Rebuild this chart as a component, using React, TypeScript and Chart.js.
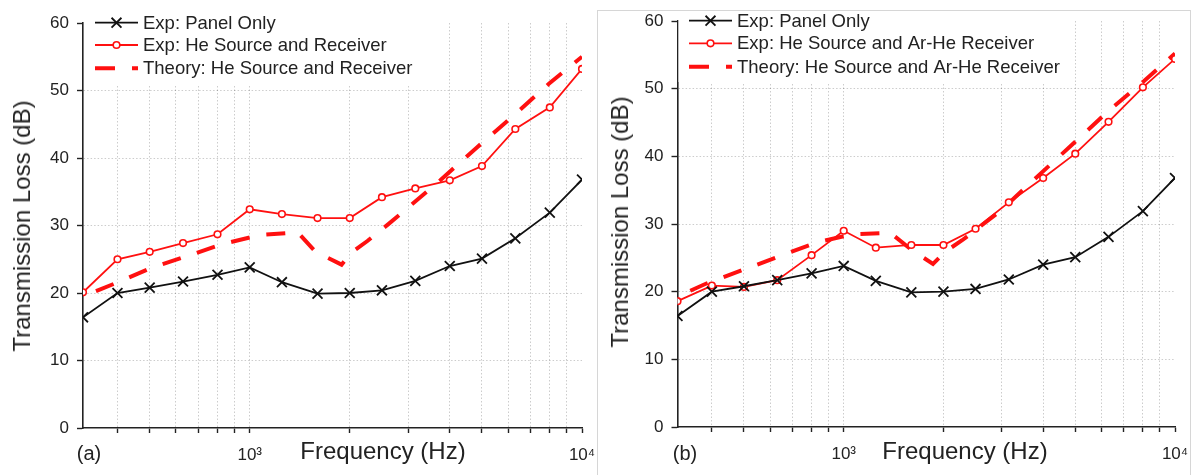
import React, { useEffect, useRef } from 'react';
import { Chart, registerables } from 'chart.js';

Chart.register(...registerables);

// ---------- data ----------
const FREQS = [315, 400, 500, 630, 800, 1000, 1250, 1600, 2000, 2500, 3150, 4000, 5000, 6300, 8000, 10000];
const PANEL_ONLY = [16.4, 20.0, 20.8, 21.7, 22.7, 23.8, 21.6, 19.9, 20.0, 20.4, 21.8, 24.0, 25.1, 28.1, 31.9, 36.8];
const HE_EXP_A = [20.1, 25.0, 26.1, 27.4, 28.7, 32.4, 31.7, 31.1, 31.1, 34.2, 35.5, 36.7, 38.8, 44.3, 47.5, 53.2];
const THEORY_A_FREQS = [315, 397, 504, 651, 835, 1079, 1394, 1578, 1890, 2024, 2260, 2614, 2923, 3746, 4837, 6200, 7950, 10000];
const THEORY_A = [19.5, 21.5, 23.7, 25.5, 27.3, 28.6, 29.0, 26.1, 24.2, 26.0, 27.7, 30.2, 32.2, 36.7, 41.6, 46.2, 51.0, 55.0];
const ARHE_EXP_B = [18.6, 20.9, 20.7, 21.7, 25.4, 29.0, 26.5, 26.9, 26.9, 29.3, 33.2, 36.8, 40.4, 45.1, 50.2, 54.4];
const THEORY_B_FREQS = [315, 385, 508, 654, 832, 1069, 1382, 1610, 1860, 2024, 2278, 2968, 3780, 4860, 6230, 8050, 10000];
const THEORY_B = [19.3, 21.2, 23.4, 25.4, 27.3, 28.5, 28.7, 26.1, 24.1, 25.9, 27.6, 31.9, 36.7, 41.6, 46.5, 51.1, 55.2];

const X_TICKS = [400, 500, 600, 700, 800, 900, 1000, 2000, 3000, 4000, 5000, 6000, 7000, 8000, 9000, 10000];
const X_TICK_LABELS: Record<number, string> = { 1000: '10³', 10000: '10⁴' };
const Y_MIN = 0;
const Y_MAX = 60;
const Y_STEP = 10;

const LEGEND_A = ['Exp: Panel Only', 'Exp: He Source and Receiver', 'Theory: He Source and Receiver'];
const LEGEND_B = ['Exp: Panel Only', 'Exp: He Source and Ar-He Receiver', 'Theory: He Source and Ar-He Receiver'];

const X_TITLE = 'Frequency (Hz)';
const Y_TITLE = 'Transmission Loss (dB)';

// ---------- styling ----------
const FONT = '"Liberation Sans", Arial, Helvetica, sans-serif';
const RED = '#ff1010';
const BLACK = '#111111';
const TEXT = '#222222';
const GRID = 'rgba(0,0,0,0.2)';

function pts(xs: number[], ys: number[]) {
  return xs.map((x, i) => ({ x, y: ys[i] }));
}

const legendPlugin = {
  id: 'customLegend',
  beforeDatasetsDraw(chart: any, _args: any, opts: any) {
    const { ctx, chartArea } = chart;
    ctx.save();
    ctx.fillStyle = '#ffffff';
    ctx.fillRect(chartArea.left + 1, chartArea.top - 1, opts.boxRight - chartArea.left - 1, opts.boxBottom - chartArea.top + 1);
    ctx.restore();
  },
  afterDatasetsDraw(chart: any, _args: any, opts: any) {
    const { ctx } = chart;
    const { x0, x1, textX, rows, labels } = opts;
    const mid = (x0 + x1) / 2;
    ctx.save();
    let y = rows[0];
    ctx.strokeStyle = BLACK;
    ctx.lineWidth = 1.8;
    ctx.beginPath();
    ctx.moveTo(x0, y);
    ctx.lineTo(x1, y);
    ctx.stroke();
    const d = 7 * Math.SQRT1_2;
    ctx.beginPath();
    ctx.moveTo(mid - d, y - d);
    ctx.lineTo(mid + d, y + d);
    ctx.moveTo(mid - d, y + d);
    ctx.lineTo(mid + d, y - d);
    ctx.stroke();
    y = rows[1];
    ctx.strokeStyle = RED;
    ctx.beginPath();
    ctx.moveTo(x0, y);
    ctx.lineTo(x1, y);
    ctx.stroke();
    ctx.fillStyle = '#fff';
    ctx.lineWidth = 1.6;
    ctx.beginPath();
    ctx.arc(mid, y, 3.3, 0, Math.PI * 2);
    ctx.fill();
    ctx.stroke();
    y = rows[2];
    ctx.lineWidth = 4;
    ctx.beginPath();
    ctx.moveTo(x0, y);
    ctx.lineTo(x0 + 20, y);
    ctx.moveTo(x1 - 6, y);
    ctx.lineTo(x1, y);
    ctx.stroke();
    ctx.fillStyle = TEXT;
    ctx.font = `18.5px ${FONT}`;
    ctx.textBaseline = 'middle';
    ctx.textAlign = 'left';
    labels.forEach((t: string, i: number) => ctx.fillText(t, textX, rows[i] + 1));
    ctx.restore();
  },
};

type PanelSpec = {
  left: number;
  width: number;
  height: number;
  area: { left: number; top: number; right: number; bottom: number };
  exp: number[];
  theoryX: number[];
  theory: number[];
  legend: { x0: number; x1: number; textX: number; rows: number[]; labels: string[]; boxRight: number; boxBottom: number };
};

function Panel({ spec }: { spec: PanelSpec }) {
  const ref = useRef<HTMLCanvasElement | null>(null);
  useEffect(() => {
    if (!ref.current) return;
    const { area, width, height } = spec;
    const chart = new Chart(ref.current, {
      type: 'line',
      data: {
        datasets: [
          {
            label: spec.legend.labels[0],
            data: pts(FREQS, PANEL_ONLY),
            borderColor: BLACK,
            borderWidth: 1.8,
            pointStyle: 'crossRot',
            pointRadius: 7,
            pointBorderWidth: 1.8,
            pointBorderColor: BLACK,
            pointBackgroundColor: BLACK,
            tension: 0,
            clip: 0,
          },
          {
            label: spec.legend.labels[1],
            data: pts(FREQS, spec.exp),
            borderColor: RED,
            borderWidth: 1.8,
            pointStyle: 'circle',
            pointRadius: 3.3,
            pointBorderWidth: 1.6,
            pointBorderColor: RED,
            pointBackgroundColor: '#ffffff',
            tension: 0,
            clip: 0,
          },
          {
            label: spec.legend.labels[2],
            data: pts(spec.theoryX, spec.theory),
            borderColor: RED,
            borderWidth: 4,
            borderDash: [19, 17],
            borderDashOffset: 22,
            borderCapStyle: 'butt',
            pointRadius: 0,
            tension: 0,
            clip: 0,
          },
        ] as any,
      },
      options: {
        animation: false,
        responsive: false,
        events: [],
        layout: { padding: { left: 0, top: area.top, right: width - area.right, bottom: 0 } },
        plugins: {
          legend: { display: false },
          tooltip: { enabled: false },
          customLegend: spec.legend,
        } as any,
        scales: {
          x: {
            type: 'logarithmic',
            position: 'bottom',
            min: 315,
            max: 10000,
            afterBuildTicks: (s: any) => {
              s.ticks = X_TICKS.map((v) => ({ value: v }));
            },
            afterFit: (s: any) => {
              s.height = height - area.bottom;
              s.paddingLeft = 0;
              s.paddingRight = 0;
            },
            ticks: {
              autoSkip: false,
              maxRotation: 0,
              minRotation: 0,
              padding: 12,
              color: TEXT,
              font: { family: FONT, size: 17 },
              callback: (v: any) => X_TICK_LABELS[Number(v)] ?? '',
            },
            grid: {
              color: (c: any) => (c.tick && c.tick.value === 10000 ? 'rgba(0,0,0,0)' : GRID),
              lineWidth: 1,
              tickLength: 5,
              tickColor: '#222',
              tickWidth: 1.4,
              tickBorderDash: [],
            },
            border: { display: true, color: '#222', width: 1.6, dash: [1.5, 2] },
          },
          y: {
            type: 'linear',
            min: Y_MIN,
            max: Y_MAX,
            afterFit: (s: any) => {
              s.width = area.left;
              s.paddingTop = 0;
              s.paddingBottom = 0;
            },
            ticks: {
              stepSize: Y_STEP,
              padding: 8,
              color: TEXT,
              font: { family: FONT, size: 17 },
            },
            grid: {
              color: (c: any) => (c.tick && (c.tick.value === Y_MAX || c.tick.value === Y_MIN) ? 'rgba(0,0,0,0)' : GRID),
              lineWidth: 1,
              tickLength: 6,
              tickColor: '#222',
              tickWidth: 1.4,
              tickBorderDash: [],
            },
            border: { display: true, color: '#222', width: 1.6, dash: [1.5, 2] },
          },
        } as any,
      },
      plugins: [legendPlugin as any],
    });
    return () => chart.destroy();
  }, [spec]);
  return (
    <canvas
      ref={ref}
      width={spec.width}
      height={spec.height}
      style={{ position: 'absolute', left: spec.left, top: 0, width: spec.width, height: spec.height }}
    />
  );
}

const PANEL_A: PanelSpec = {
  left: 0,
  width: 600,
  height: 475,
  area: { left: 83, top: 23, right: 582, bottom: 428 },
  exp: HE_EXP_A,
  theoryX: THEORY_A_FREQS,
  theory: THEORY_A,
  legend: { x0: 95, x1: 138, textX: 143, rows: [22.7, 45, 68.3], labels: LEGEND_A, boxRight: 415, boxBottom: 86 },
};

const PANEL_B: PanelSpec = {
  left: 590,
  width: 602,
  height: 475,
  area: { left: 87.5, top: 21, right: 585, bottom: 427 },
  exp: ARHE_EXP_B,
  theoryX: THEORY_B_FREQS,
  theory: THEORY_B,
  legend: { x0: 99, x1: 142, textX: 147, rows: [20.7, 43.3, 66.7], labels: LEGEND_B, boxRight: 477, boxBottom: 82 },
};

const textStyle: React.CSSProperties = {
  position: 'absolute',
  fontFamily: FONT,
  color: TEXT,
  whiteSpace: 'nowrap',
  lineHeight: 1,
};

function Label({ x, y, size, text, rotate }: { x: number; y: number; size: number; text: string; rotate?: boolean }) {
  return (
    <div
      style={{
        ...textStyle,
        left: x,
        top: y,
        fontSize: size,
        transform: `translate(-50%, -50%)${rotate ? ' rotate(-90deg)' : ''}`,
      }}
    >
      {text}
    </div>
  );
}

export default function App() {
  return (
    <div style={{ position: 'absolute', left: 0, top: 0, width: 1192, height: 475, background: '#fff', overflow: 'hidden' }}>
      <div
        style={{
          position: 'absolute',
          left: 597,
          top: 10,
          width: 594,
          height: 470,
          border: '1px solid #d6d6d6',
          boxSizing: 'border-box',
        }}
      />
      <Panel spec={PANEL_A} />
      <Panel spec={PANEL_B} />
      <Label x={22} y={226} size={24} text={Y_TITLE} rotate />
      <Label x={383} y={451} size={24} text={X_TITLE} />
      <Label x={89} y={453} size={20} text="(a)" />
      <Label x={620} y={222} size={24} text={Y_TITLE} rotate />
      <Label x={965} y={451} size={24} text={X_TITLE} />
      <Label x={685} y={453} size={20} text="(b)" />
    </div>
  );
}
